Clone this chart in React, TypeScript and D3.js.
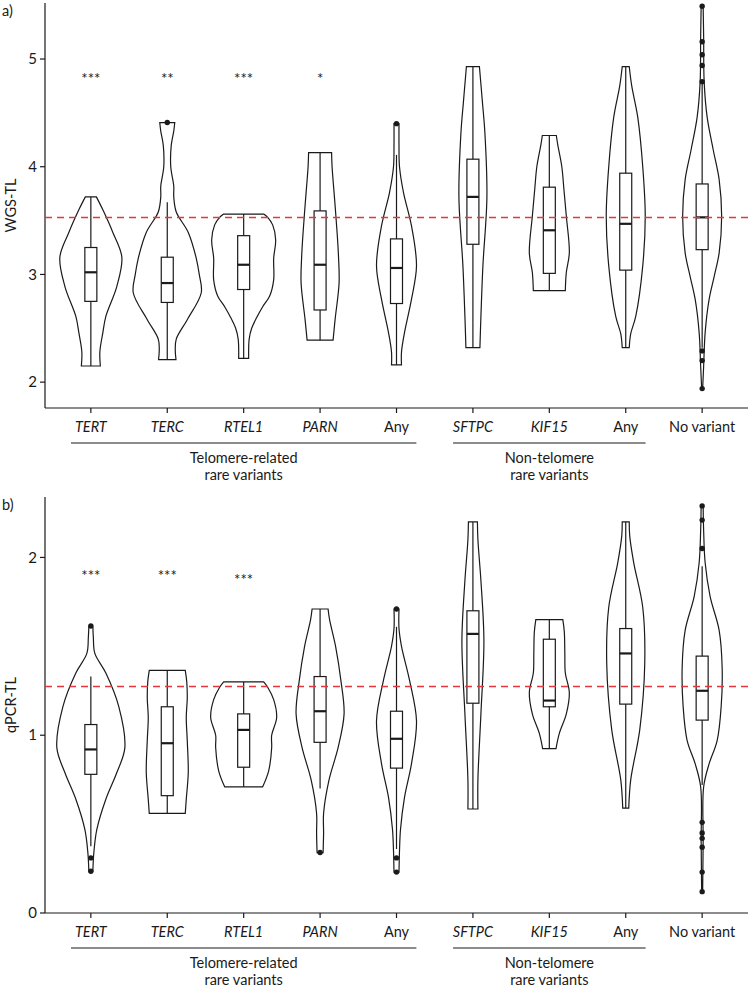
import React from "react";
import * as d3 from "d3";

// ---------- data ----------
const categories = ["TERT", "TERC", "RTEL1", "PARN", "Any", "SFTPC", "KIF15", "Any", "No variant"];
const italicCats = [true, true, true, true, false, true, true, false, false];
const groupLabels = [["Telomere-related", "rare variants"], ["Non-telomere", "rare variants"]];
const groupRanges = [[0, 4], [5, 7]];

// WGS-TL (panel a): violin profiles [value, density]
const wgsViolins: [number, number][][] = [
  [[2.15, 9.5], [2.28, 9], [2.46, 12], [2.61, 15], [2.89, 26], [3.16, 31], [3.39, 22], [3.6, 12], [3.72, 5.5]],
  [[2.21, 8.7], [2.3, 8], [2.4, 9], [2.58, 20], [2.83, 34], [3.0, 32], [3.15, 29], [3.39, 21], [3.58, 9], [3.72, 6.5], [3.82, 6.5], [4.0, 3.5], [4.2, 4], [4.33, 6.5], [4.41, 7.5]],
  [[2.22, 5], [2.4, 5.5], [2.5, 8], [2.6, 13], [2.7, 19], [2.8, 26], [2.95, 30], [3.15, 30], [3.32, 32], [3.46, 29], [3.53, 24], [3.56, 20]],
  [[2.39, 13], [2.58, 15], [2.92, 19], [3.15, 18.5], [3.39, 17], [3.7, 14.5], [4.0, 12], [4.13, 11.5]],
  [[2.16, 5], [2.28, 5], [2.46, 8], [2.77, 15], [3.08, 20], [3.45, 15], [3.76, 7], [4.0, 3], [4.2, 2.5], [4.4, 2.5]],
  [[2.32, 7], [2.61, 8], [3.08, 10], [3.72, 14], [4.31, 12], [4.6, 9.5], [4.93, 6.5]],
  [[2.85, 16], [3.02, 17], [3.2, 20], [3.54, 17], [3.8, 14.5], [4.0, 12.5], [4.2, 8.5], [4.29, 7]],
  [[2.32, 3.5], [2.45, 5], [2.61, 10], [3.08, 17], [3.54, 19.5], [4.0, 17], [4.46, 12], [4.75, 6], [4.93, 3.5]],
  [[1.94, 0.5], [2.15, 1.5], [2.46, 3], [2.77, 7], [2.98, 12], [3.2, 17], [3.54, 19.5], [3.88, 17], [4.16, 11], [4.46, 5], [4.79, 2], [5.2, 1.5], [5.49, 1]],
];
// [whiskerLow, q1, median, q3, whiskerHigh]
const wgsBoxes = [
  [2.15, 2.75, 3.02, 3.25, 3.72],
  [2.21, 2.74, 2.92, 3.16, 3.67],
  [2.22, 2.86, 3.09, 3.36, 3.56],
  [2.39, 2.67, 3.09, 3.59, 4.13],
  [2.16, 2.73, 3.06, 3.33, 4.11],
  [2.32, 3.28, 3.72, 4.07, 4.93],
  [2.85, 3.01, 3.41, 3.81, 4.29],
  [2.32, 3.04, 3.47, 3.94, 4.93],
  [2.32, 3.23, 3.53, 3.84, 4.77],
];
const wgsOutliers = [[], [4.41], [], [], [4.4], [], [], [], [5.49, 5.16, 5.04, 4.94, 4.79, 2.29, 2.2, 1.94]];
const wgsStars = ["***", "**", "***", "*", "", "", "", "", ""];
const wgsStarY = [4.84, 4.84, 4.84, 4.84, 0, 0, 0, 0, 0];
const wgsRef = 3.53;
const wgsDomain = [1.76, 5.52];
const wgsTicks = [2, 3, 4, 5];

// qPCR-TL (panel b)
const qpcrViolins: [number, number][][] = [
  [[0.235, 2], [0.34, 3], [0.47, 6], [0.64, 15], [0.79, 26], [0.93, 34], [1.16, 28], [1.35, 15], [1.46, 4], [1.55, 2.5], [1.61, 2]],
  [[0.56, 18], [0.64, 19], [0.79, 21], [0.97, 20], [1.1, 19], [1.21, 20], [1.3, 19.5], [1.365, 18]],
  [[0.71, 19], [0.8, 25], [0.93, 28], [1.0, 28], [1.1, 33], [1.2, 30], [1.27, 24], [1.3, 20]],
  [[0.34, 3], [0.45, 3.5], [0.56, 3.5], [0.75, 9], [0.93, 18], [1.12, 24], [1.3, 21], [1.5, 15.5], [1.65, 9.5], [1.71, 8]],
  [[0.23, 2.5], [0.35, 3], [0.47, 4], [0.65, 8], [0.84, 15], [1.08, 20], [1.31, 13], [1.5, 5], [1.6, 2.5], [1.71, 2.5]],
  [[0.585, 5], [0.75, 5], [1.12, 8], [1.53, 11], [1.87, 8], [2.1, 5], [2.2, 4.5]],
  [[0.925, 6.7], [1.01, 10], [1.12, 17], [1.24, 20], [1.35, 16], [1.46, 15.5], [1.58, 15], [1.65, 13.5]],
  [[0.59, 3], [0.75, 5], [1.03, 14], [1.4, 19], [1.72, 17], [1.97, 8], [2.12, 4], [2.2, 3.5]],
  [[0.12, 0.5], [0.4, 1], [0.71, 1.5], [0.84, 7], [0.97, 15], [1.16, 19], [1.38, 20], [1.59, 17], [1.78, 8], [1.97, 3], [2.15, 1.5], [2.29, 1]],
];
const qpcrBoxes = [
  [0.376, 0.78, 0.92, 1.06, 1.33],
  [0.56, 0.66, 0.955, 1.16, 1.365],
  [0.71, 0.82, 1.03, 1.12, 1.3],
  [0.7, 0.96, 1.135, 1.33, 1.71],
  [0.36, 0.815, 0.98, 1.135, 1.61],
  [0.585, 1.18, 1.57, 1.7, 2.2],
  [0.925, 1.16, 1.195, 1.54, 1.65],
  [0.59, 1.175, 1.46, 1.6, 2.2],
  [0.72, 1.085, 1.25, 1.445, 1.95],
];
const qpcrOutliers = [[1.614, 0.31, 0.235], [], [], [0.34], [1.71, 0.31, 0.23], [], [], [], [2.29, 2.21, 2.05, 0.51, 0.45, 0.42, 0.37, 0.23, 0.12]];
const qpcrStars = ["***", "***", "***", "", "", "", "", "", ""];
const qpcrStarY = [1.91, 1.91, 1.89, 0, 0, 0, 0, 0, 0];
const qpcrRef = 1.275;
const qpcrDomain = [0, 2.34];
const qpcrTicks = [0, 1, 2];

const FONT = "Lato, 'Noto Sans', sans-serif";
const INK = "#1a1a1a";
const FS = 14.5;

type PanelProps = {
  tag: string;
  yLabel: string;
  top: number;
  bottom: number;
  domain: number[];
  ticks: number[];
  violins: [number, number][][];
  boxes: number[][];
  outliers: number[][];
  stars: string[];
  starY: number[];
  refValue: number;
};

function Panel(p: PanelProps) {
  const left = 45;
  const right = 748;
  const idx = categories.map((_, i) => String(i));
  const x = d3.scalePoint<string>().domain(idx).range([left, right]).padding(0.6);
  const step = x.step();
  const y = d3.scaleLinear().domain(p.domain).range([p.bottom, p.top]);
  const w = d3.scaleLinear().domain([0, 34]).range([0, 34]);
  const boxHalf = 6;
  const refY = Math.round(y(p.refValue)) + 0.5;

  return (
    <g>
      <text x={2} y={p.top + 13} fontSize={FS} fontFamily={FONT} fill={INK}>{p.tag}</text>
      {/* y axis */}
      <line x1={left} x2={left} y1={p.top} y2={p.bottom} stroke={INK} strokeWidth={1.2} />
      {p.ticks.map((t) => (
        <g key={t}>
          <line x1={left - 5} x2={left} y1={y(t)} y2={y(t)} stroke={INK} strokeWidth={1.2} />
          <text x={left - 8} y={y(t)} dy="0.35em" textAnchor="end" fontSize={FS + 0.5} fontFamily={FONT} fill={INK}>{t}</text>
        </g>
      ))}
      <text
        transform={`translate(16,${(p.top + p.bottom) / 2}) rotate(-90)`}
        textAnchor="middle"
        fontSize={FS}
        fontFamily={FONT}
        fill={INK}
      >
        {p.yLabel}
      </text>
      {/* x axis */}
      <line x1={left} x2={right} y1={p.bottom} y2={p.bottom} stroke={INK} strokeWidth={1.2} />
      {categories.map((c, i) => (
        <g key={i}>
          <line x1={x(String(i))} x2={x(String(i))} y1={p.bottom} y2={p.bottom + 5} stroke={INK} strokeWidth={1.2} />
          <text
            x={x(String(i))}
            y={p.bottom + 24}
            textAnchor="middle"
            fontSize={FS}
            fontFamily={FONT}
            fontStyle={italicCats[i] ? "italic" : "normal"}
            fill={INK}
          >
            {c}
          </text>
        </g>
      ))}
      {groupRanges.map((g, gi) => {
        const x0 = (x(String(g[0])) as number) - 0.26 * step;
        const x1 = (x(String(g[1])) as number) + 0.26 * step;
        const cx = (x0 + x1) / 2;
        return (
          <g key={gi}>
            <line x1={x0} x2={x1} y1={p.bottom + 35} y2={p.bottom + 35} stroke={INK} strokeWidth={1.2} />
            <text x={cx} y={p.bottom + 55} textAnchor="middle" fontSize={FS} fontFamily={FONT} fill={INK}>{groupLabels[gi][0]}</text>
            <text x={cx} y={p.bottom + 72} textAnchor="middle" fontSize={FS} fontFamily={FONT} fill={INK}>{groupLabels[gi][1]}</text>
          </g>
        );
      })}
      {/* violins */}
      {p.violins.map((v, i) => {
        const cx = x(String(i)) as number;
        const area = d3
          .area<[number, number]>()
          .curve(d3.curveCatmullRom.alpha(0.5))
          .y((d) => y(d[0]))
          .x0((d) => cx - w(d[1]))
          .x1((d) => cx + w(d[1]));
        const b = p.boxes[i];
        return (
          <g key={i}>
            <path d={area(v) || ""} fill="white" stroke={INK} strokeWidth={1.2} />
            <line x1={cx} x2={cx} y1={y(b[0])} y2={y(b[4])} stroke={INK} strokeWidth={1.2} />
            <rect x={cx - boxHalf} width={boxHalf * 2} y={y(b[3])} height={y(b[1]) - y(b[3])} fill="white" stroke={INK} strokeWidth={1.2} />
            <line x1={cx - boxHalf} x2={cx + boxHalf} y1={y(b[2])} y2={y(b[2])} stroke={INK} strokeWidth={2.2} />
            {p.outliers[i].map((o, k) => (
              <circle key={k} cx={cx} cy={y(o)} r={2.7} fill={INK} />
            ))}
            {p.stars[i] ? (
              <text x={cx} y={y(p.starY[i]) + 8} textAnchor="middle" fontSize={15} fontFamily={FONT} fill={INK}>{p.stars[i]}</text>
            ) : null}
          </g>
        );
      })}
      <line x1={left} x2={right} y1={refY} y2={refY} stroke="#e8343c" strokeWidth={1.3} strokeDasharray="7,5" />
    </g>
  );
}

export default function App() {
  return (
    <svg width={750} height={987} style={{ position: "absolute", left: 0, top: 0, background: "white" }}>
      <rect width={750} height={987} fill="white" />
      <Panel
        tag="a)"
        yLabel="WGS-TL"
        top={3}
        bottom={408}
        domain={wgsDomain}
        ticks={wgsTicks}
        violins={wgsViolins}
        boxes={wgsBoxes}
        outliers={wgsOutliers}
        stars={wgsStars}
        starY={wgsStarY}
        refValue={wgsRef}
      />
      <Panel
        tag="b)"
        yLabel="qPCR-TL"
        top={497}
        bottom={913}
        domain={qpcrDomain}
        ticks={qpcrTicks}
        violins={qpcrViolins}
        boxes={qpcrBoxes}
        outliers={qpcrOutliers}
        stars={qpcrStars}
        starY={qpcrStarY}
        refValue={qpcrRef}
      />
    </svg>
  );
}
